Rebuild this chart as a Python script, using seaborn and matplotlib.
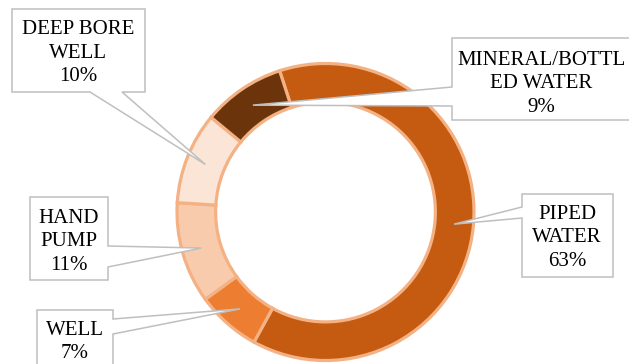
import matplotlib
matplotlib.use("Agg")
import matplotlib.pyplot as plt
import seaborn as sns
import numpy as np
from matplotlib.patches import Polygon

# ---- data ----
categories = ["PIPED\nWATER", "WELL", "HAND\nPUMP", "DEEP BORE\nWELL", "MINERAL/BOTTL\nED WATER"]
values = [63, 7, 11, 10, 9]
colors = ["#C55A11", "#ED7D31", "#F8CBAD", "#FBE5D6", "#6B340B"]

sns.set_theme(style="white")
plt.rcParams['font.family'] = ['Liberation Serif', 'DejaVu Serif']

W, H = 629, 364
fig = plt.figure(figsize=(W / 100, H / 100), dpi=100)
fig.patch.set_facecolor("white")

# donut axes (pixel layout)
cx, cy, R = 325.5, 212.0, 148.5
ax = fig.add_axes([(cx - R) / W, (H - cy - R) / H, 2 * R / W, 2 * R / H])
palette = sns.color_palette(colors)
ring = 0.26
wedges, _ = ax.pie(values, colors=palette, startangle=108, counterclock=False,
                   radius=1.0,
                   wedgeprops=dict(width=ring, edgecolor="#F4B183", linewidth=2.3))
for w in wedges:
    w.set_clip_on(False)
ax.set_xlim(-1, 1)
ax.set_ylim(-1, 1)
ax.set_aspect("auto")
ax.axis("off")

# overlay axes in pixel coordinates for the callouts
ov = fig.add_axes([0, 0, 1, 1], zorder=5)
ov.set_xlim(0, W)
ov.set_ylim(H, 0)
ov.axis("off")
ov.patch.set_alpha(0)

# callout layout: box (x0, y0, x1, y1), side of pointer, base span, text centre
layout = [
    dict(box=(522, 194, 613, 277), side="left", base=(207, 218), tc=(567, 238)),
    dict(box=(37, 310, 113, 390), side="right", base=(319, 334), tc=(75, 342)),
    dict(box=(30, 197, 108, 280), side="right", base=(246, 267), tc=(69, 242)),
    dict(box=(12, 9, 145, 92), side="bottom", base=(90, 122), tc=(78, 53)),
    dict(box=(452, 38, 660, 120), side="left", base=(87, 106), tc=(541, 84)),
]

total = sum(values)
r_mid = 1 - ring / 2
for w, cat, val, lay in zip(wedges, categories, values, layout):
    mid = np.deg2rad((w.theta1 + w.theta2) / 2)
    disp = ax.transData.transform((r_mid * np.cos(mid), r_mid * np.sin(mid)))
    tip = tuple(ov.transData.inverted().transform(disp))
    x0, y0, x1, y1 = lay["box"]
    b1, b2 = lay["base"]
    pts = [(x0, y0), (x1, y0)]
    if lay["side"] == "right":
        pts += [(x1, b1), tip, (x1, b2)]
    pts += [(x1, y1)]
    if lay["side"] == "bottom":
        pts += [(b2, y1), tip, (b1, y1)]
    pts += [(x0, y1)]
    if lay["side"] == "left":
        pts += [(x0, b2), tip, (x0, b1)]
    poly = Polygon(pts, closed=True, facecolor="white", edgecolor="#BFBFBF",
                   linewidth=1.1, joinstyle="miter")
    ov.add_patch(poly)
    pct = f"{round(100 * val / total)}%"
    ov.text(lay["tc"][0], lay["tc"][1], f"{cat}\n{pct}", ha="center", va="center",
            fontsize=15, color="black", linespacing=1.3, multialignment="center")

fig.savefig("out.png", dpi=100, facecolor="white")
